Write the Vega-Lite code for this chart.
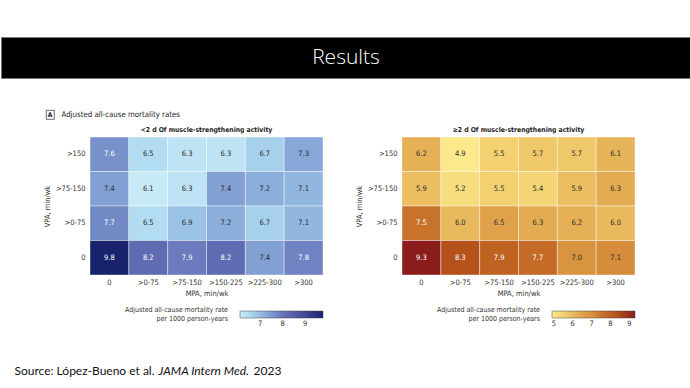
{
  "$schema": "https://vega.github.io/schema/vega-lite/v6.json",
  "padding": {"top": 36, "left": 0, "right": 0, "bottom": 0},
  "background": "white",
  "spacing": 0,
  "config": {
    "view": {"stroke": null},
    "font": "Liberation Sans Narrow, DejaVu Sans Condensed, sans-serif",
    "axis": {"domain": false, "ticks": false, "grid": false, "labelFontSize": 7.5, "titleFontSize": 7.5, "labelColor": "#333", "titleColor": "#333", "titleFontWeight": "normal"},
    "title": {"fontSize": 6.8, "fontWeight": "bold", "color": "#222"},
    "legend": {"labelFontSize": 7.5, "labelColor": "#333", "titleColor": "#333", "titleFontWeight": "normal", "titleFontSize": 7}
  },
  "datasets": {
    "cells": [
      {"g": "lt2", "v": ">150", "m": "0", "r": 7.6},
      {"g": "lt2", "v": ">150", "m": ">0-75", "r": 6.5},
      {"g": "lt2", "v": ">150", "m": ">75-150", "r": 6.3},
      {"g": "lt2", "v": ">150", "m": ">150-225", "r": 6.3},
      {"g": "lt2", "v": ">150", "m": ">225-300", "r": 6.7},
      {"g": "lt2", "v": ">150", "m": ">300", "r": 7.3},
      {"g": "lt2", "v": ">75-150", "m": "0", "r": 7.4},
      {"g": "lt2", "v": ">75-150", "m": ">0-75", "r": 6.1},
      {"g": "lt2", "v": ">75-150", "m": ">75-150", "r": 6.3},
      {"g": "lt2", "v": ">75-150", "m": ">150-225", "r": 7.4},
      {"g": "lt2", "v": ">75-150", "m": ">225-300", "r": 7.2},
      {"g": "lt2", "v": ">75-150", "m": ">300", "r": 7.1},
      {"g": "lt2", "v": ">0-75", "m": "0", "r": 7.7},
      {"g": "lt2", "v": ">0-75", "m": ">0-75", "r": 6.5},
      {"g": "lt2", "v": ">0-75", "m": ">75-150", "r": 6.9},
      {"g": "lt2", "v": ">0-75", "m": ">150-225", "r": 7.2},
      {"g": "lt2", "v": ">0-75", "m": ">225-300", "r": 6.7},
      {"g": "lt2", "v": ">0-75", "m": ">300", "r": 7.1},
      {"g": "lt2", "v": "0", "m": "0", "r": 9.8},
      {"g": "lt2", "v": "0", "m": ">0-75", "r": 8.2},
      {"g": "lt2", "v": "0", "m": ">75-150", "r": 7.9},
      {"g": "lt2", "v": "0", "m": ">150-225", "r": 8.2},
      {"g": "lt2", "v": "0", "m": ">225-300", "r": 7.4},
      {"g": "lt2", "v": "0", "m": ">300", "r": 7.8},
      {"g": "ge2", "v": ">150", "m": "0", "r": 6.2},
      {"g": "ge2", "v": ">150", "m": ">0-75", "r": 4.9},
      {"g": "ge2", "v": ">150", "m": ">75-150", "r": 5.5},
      {"g": "ge2", "v": ">150", "m": ">150-225", "r": 5.7},
      {"g": "ge2", "v": ">150", "m": ">225-300", "r": 5.7},
      {"g": "ge2", "v": ">150", "m": ">300", "r": 6.1},
      {"g": "ge2", "v": ">75-150", "m": "0", "r": 5.9},
      {"g": "ge2", "v": ">75-150", "m": ">0-75", "r": 5.2},
      {"g": "ge2", "v": ">75-150", "m": ">75-150", "r": 5.5},
      {"g": "ge2", "v": ">75-150", "m": ">150-225", "r": 5.4},
      {"g": "ge2", "v": ">75-150", "m": ">225-300", "r": 5.9},
      {"g": "ge2", "v": ">75-150", "m": ">300", "r": 6.3},
      {"g": "ge2", "v": ">0-75", "m": "0", "r": 7.5},
      {"g": "ge2", "v": ">0-75", "m": ">0-75", "r": 6.0},
      {"g": "ge2", "v": ">0-75", "m": ">75-150", "r": 6.5},
      {"g": "ge2", "v": ">0-75", "m": ">150-225", "r": 6.3},
      {"g": "ge2", "v": ">0-75", "m": ">225-300", "r": 6.2},
      {"g": "ge2", "v": ">0-75", "m": ">300", "r": 6.0},
      {"g": "ge2", "v": "0", "m": "0", "r": 9.3},
      {"g": "ge2", "v": "0", "m": ">0-75", "r": 8.3},
      {"g": "ge2", "v": "0", "m": ">75-150", "r": 7.9},
      {"g": "ge2", "v": "0", "m": ">150-225", "r": 7.7},
      {"g": "ge2", "v": "0", "m": ">225-300", "r": 7.0},
      {"g": "ge2", "v": "0", "m": ">300", "r": 7.1}
    ],
    "blank": [{"t": ""}]
  },
  "vconcat": [
    {
      "width": 690, "height": 41,
      "view": {"fill": "black", "stroke": "#777", "strokeWidth": 1},
      "data": {"values": [{"t": "Results"}]},
      "mark": {"type": "text", "color": "white", "fontSize": 21, "font": "Open Sans", "fontWeight": 300},
      "encoding": {"text": {"field": "t"}}
    },
    {"width": 1, "height": 30, "data": {"name": "blank"}, "mark": {"type": "text", "fontSize": 0}, "encoding": {"text": {"field": "t"}}},
    {
      "hconcat": [
        {"width": 38, "height": 9, "data": {"name": "blank"}, "mark": {"type": "text", "fontSize": 0}, "encoding": {"text": {"field": "t"}}},
        {
          "width": 8, "height": 9,
          "view": {"stroke": "#444", "strokeWidth": 0.8},
          "data": {"values": [{"t": "A"}]},
          "mark": {"type": "text", "fontSize": 6.5, "fontWeight": "bold", "color": "#222"},
          "encoding": {"text": {"field": "t"}}
        },
        {
          "width": 1, "height": 9,
          "data": {"values": [{"t": "Adjusted all-cause mortality rates"}]},
          "mark": {"type": "text", "fontSize": 7.8, "align": "left", "color": "#222"},
          "encoding": {"text": {"field": "t"}}
        }
      ],
      "spacing": 6
    },
    {"width": 1, "height": 6, "data": {"name": "blank"}, "mark": {"type": "text", "fontSize": 0}, "encoding": {"text": {"field": "t"}}},
    {
      "hconcat": [
        {"width": 11, "height": 10, "data": {"name": "blank"}, "mark": {"type": "text", "fontSize": 0}, "encoding": {"text": {"field": "t"}}},
        {
          "width": 233, "height": 138,
          "title": {"text": "<2 d Of muscle-strengthening activity", "offset": 3},
          "data": {"name": "cells"},
          "transform": [{"filter": "datum.g === 'lt2'"}],
          "encoding": {
            "x": {"field": "m", "type": "ordinal", "sort": ["0", ">0-75", ">75-150", ">150-225", ">225-300", ">300"], "title": "MPA, min/wk", "axis": {"labelAngle": 0, "labelPadding": 3, "titlePadding": 4}},
            "y": {"field": "v", "type": "ordinal", "sort": [">150", ">75-150", ">0-75", "0"], "title": "VPA, min/wk", "axis": {"labelPadding": 5, "titlePadding": 4}}
          },
          "layer": [
            {
              "mark": {"type": "rect", "stroke": "white", "strokeWidth": 0.8, "strokeOpacity": 0.5},
              "encoding": {
                "color": {
                  "field": "r", "type": "quantitative",
                  "scale": {"domain": [6.1, 6.5, 7.0, 7.5, 8.0, 9.0, 9.8], "range": ["#c8eaf7", "#b2dcf1", "#97bde3", "#7e98cf", "#6774b8", "#414b98", "#18226d"]},
                  "legend": {"orient": "none", "legendX": 35, "legendY": 174, "direction": "horizontal", "gradientLength": 83, "gradientThickness": 7, "titleOrient": "left", "title": ["Adjusted all-cause mortality rate", "per 1000 person-years"], "titleAlign": "right", "titlePadding": -92, "titleLimit": 300, "values": [7, 8, 9], "labelOffset": 2, "gradientStrokeColor": "#444", "gradientStrokeWidth": 0.5}
                }
              }
            },
            {
              "mark": {"type": "text", "fontSize": 7.5},
              "encoding": {
                "text": {"field": "r", "type": "quantitative", "format": ".1f"},
                "color": {"condition": {"test": "datum.r >= 7.5", "value": "white"}, "value": "#2b2b2b"}
              }
            }
          ]
        },
        {
          "width": 233, "height": 138,
          "title": {"text": "≥2 d Of muscle-strengthening activity", "offset": 3},
          "data": {"name": "cells"},
          "transform": [{"filter": "datum.g === 'ge2'"}],
          "encoding": {
            "x": {"field": "m", "type": "ordinal", "sort": ["0", ">0-75", ">75-150", ">150-225", ">225-300", ">300"], "title": "MPA, min/wk", "axis": {"labelAngle": 0, "labelPadding": 3, "titlePadding": 4}},
            "y": {"field": "v", "type": "ordinal", "sort": [">150", ">75-150", ">0-75", "0"], "title": "VPA, min/wk", "axis": {"labelPadding": 5, "titlePadding": 4}}
          },
          "layer": [
            {
              "mark": {"type": "rect", "stroke": "white", "strokeWidth": 0.8, "strokeOpacity": 0.5},
              "encoding": {
                "color": {
                  "field": "r", "type": "quantitative",
                  "scale": {"domain": [4.9, 5.5, 6.0, 6.5, 7.0, 7.5, 8.3, 9.3], "range": ["#fbe98c", "#f3d171", "#e9ba5d", "#dfa24b", "#d8943f", "#c8732b", "#b5521b", "#8b1c1c"]},
                  "legend": {"orient": "none", "legendX": 35, "legendY": 174, "direction": "horizontal", "gradientLength": 83, "gradientThickness": 7, "titleOrient": "left", "title": ["Adjusted all-cause mortality rate", "per 1000 person-years"], "titleAlign": "right", "titlePadding": -92, "titleLimit": 300, "values": [5, 6, 7, 8, 9], "labelOffset": 2, "gradientStrokeColor": "#444", "gradientStrokeWidth": 0.5}
                }
              }
            },
            {
              "mark": {"type": "text", "fontSize": 7.5},
              "encoding": {
                "text": {"field": "r", "type": "quantitative", "format": ".1f"},
                "color": {"condition": {"test": "datum.r >= 7.5", "value": "white"}, "value": "#2b2b2b"}
              }
            }
          ]
        }
      ],
      "spacing": 31,
      "resolve": {"scale": {"color": "independent"}}
    },
    {"width": 1, "height": 36, "data": {"name": "blank"}, "mark": {"type": "text", "fontSize": 0}, "encoding": {"text": {"field": "t"}}},
    {
      "hconcat": [
        {"width": 10, "height": 14, "data": {"name": "blank"}, "mark": {"type": "text", "fontSize": 0}, "encoding": {"text": {"field": "t"}}},
        {
          "width": 1, "height": 14,
          "data": {"values": [{"t": "Source: López-Bueno et al."}]},
          "mark": {"type": "text", "fontSize": 12, "font": "Lato", "align": "left", "color": "#111"},
          "encoding": {"text": {"field": "t"}}
        },
        {
          "width": 1, "height": 14,
          "data": {"values": [{"t": "JAMA Intern Med."}]},
          "mark": {"type": "text", "fontSize": 12, "font": "Lato", "fontStyle": "italic", "align": "left", "color": "#111"},
          "encoding": {"text": {"field": "t"}}
        },
        {
          "width": 1, "height": 14,
          "data": {"values": [{"t": "2023"}]},
          "mark": {"type": "text", "fontSize": 12, "font": "Lato", "align": "left", "color": "#111"},
          "encoding": {"text": {"field": "t"}}
        }
      ],
      "spacing": 3
    }
  ]
}
